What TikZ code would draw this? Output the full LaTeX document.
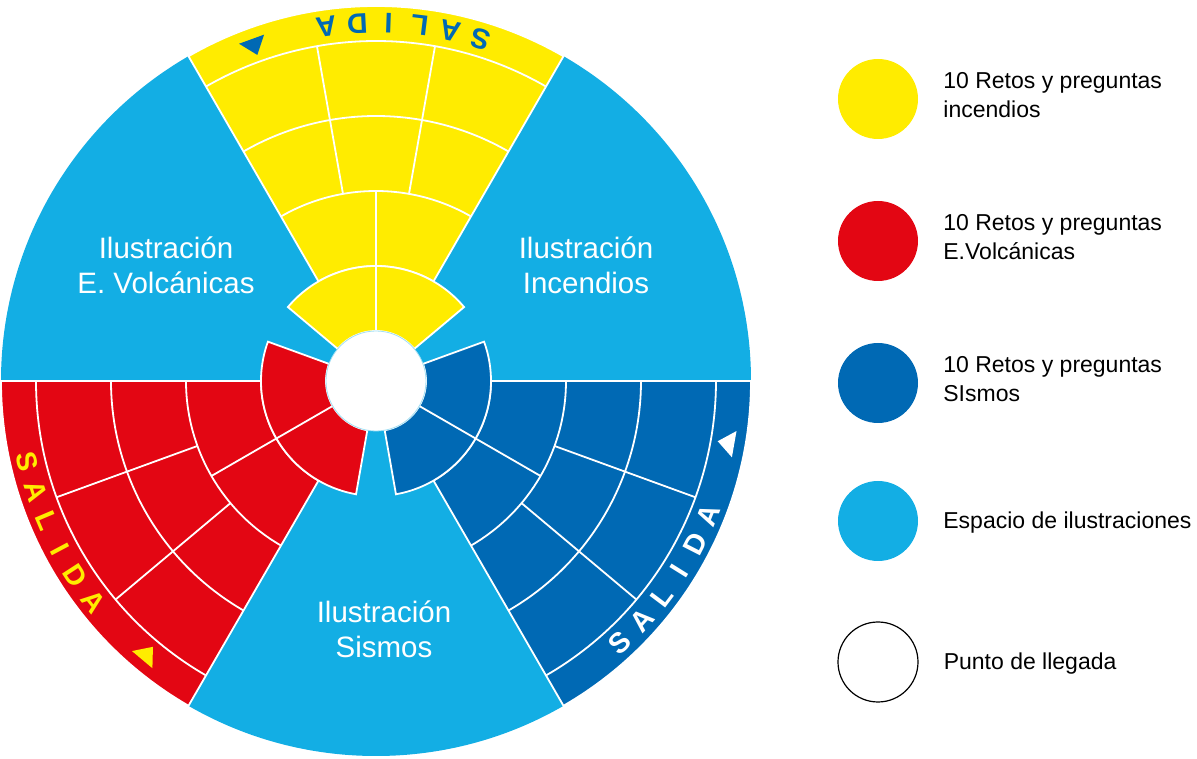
\documentclass[tikz,border=0pt]{standalone}
\usepackage{fontspec}
\setmainfont{Liberation Sans}
\usetikzlibrary{positioning}

\definecolor{amarillo}{HTML}{FFEC00}
\definecolor{rojo}{HTML}{E30613}
\definecolor{azul}{HTML}{0069B4}
\definecolor{celeste}{HTML}{13AEE4}

\tikzset{every picture/.style={x=1pt,y=1pt},
  linea/.style={draw=white,line width=1.8pt},
  ilus/.style={text=white,align=center,font=\fontsize{29.5}{35}\selectfont},
  letra/.style={font=\fontsize{28.5}{30}\selectfont\bfseries,inner sep=0pt},
  legcirc/.style={circle,minimum size=80pt,inner sep=0pt},
  legtext/.style={align=left,inner sep=0pt,font=\fontsize{23}{29.5}\selectfont}}

% ten cells: #1 fill, #2 colour of SALIDA, #3 middle angle, #4 name
\newcommand{\retosector}[4]{%
  \filldraw[linea,fill=#1] ({#3-30}:115) -- ({#3-30}:375) arc[start angle=#3-30,end angle=#3+30,radius=375] -- ({#3+30}:115) arc[start angle=#3+30,end angle=#3-30,radius=115] -- cycle;
  \filldraw[linea,fill=#1] ({#3-50}:50) -- ({#3-50}:115) arc[start angle=#3-50,end angle=#3+50,radius=115] -- ({#3+50}:50) arc[start angle=#3+50,end angle=#3-50,radius=50] -- cycle;
  \draw[linea] ({#3-30}:190) arc[start angle=#3-30,end angle=#3+30,radius=190];
  \draw[linea] ({#3-30}:265) arc[start angle=#3-30,end angle=#3+30,radius=265];
  \draw[linea] ({#3-30}:340) arc[start angle=#3-30,end angle=#3+30,radius=340];
  \draw[linea] (#3:50) -- (#3:190);
  \draw[linea] ({#3-10}:190) -- ({#3-10}:340);
  \draw[linea] ({#3+10}:190) -- ({#3+10}:340);
  \fill[#2] ({#3+17.9}:364) -- ({#3+22.1}:364) -- ({#3+20}:347) -- cycle;
  \node (#4S) at ({#3-17}:358) [letra,text=#2,rotate=#3-287] {S};
  \node (#4A) at ({#3-12}:358) [letra,text=#2,rotate=#3-282] {A};
  \node (#4L) at ({#3-7}:358) [letra,text=#2,rotate=#3-277] {L};
  \node (#4I) at ({#3-2}:358) [letra,text=#2,rotate=#3-272] {I};
  \node (#4D) at ({#3+3}:358) [letra,text=#2,rotate=#3-267] {D};
  \node (#4AA) at ({#3+8}:358) [letra,text=#2,rotate=#3-262] {A};
}

\begin{document}
\begin{tikzpicture}
\useasboundingbox (-376,-378) rectangle (821,381);

\fill[celeste] (0,0) circle[radius=375];
\retosector{amarillo}{azul}{90}{inc}
\retosector{rojo}{amarillo}{210}{vol}
\retosector{azul}{white}{330}{sis}
\node (llegada) at (0,0) [circle,fill=white,draw=celeste!40,line width=0.8pt,minimum size=100pt,inner sep=0pt] {};

\node (ilvolcan) at (-210,115.5) [ilus] {Ilustración\\E. Volcánicas};
\node (ilincend) at (210,115.5) [ilus] {Ilustración\\Incendios};
\node (ilsismos) at (8,-248) [ilus] {Ilustración\\Sismos};

% legend
\node (legamarillo) at (502,282) [legcirc,fill=amarillo] {};
\node (legrojo) at (502,140) [legcirc,fill=rojo] {};
\node (legazul) at (502,-2) [legcirc,fill=azul] {};
\node (legceleste) at (502,-140) [legcirc,fill=celeste] {};
\node (legblanco) at (502,-281) [legcirc,draw=black,line width=1.2pt] {};

\node (txtamarillo) [legtext,right=25pt of legamarillo,yshift=4pt] {10 Retos y preguntas\\incendios};
\node (txtrojo) [legtext,right=25pt of legrojo,yshift=4pt] {10 Retos y preguntas\\E.Volcánicas};
\node (txtazul) [legtext,right=25pt of legazul,yshift=4pt] {10 Retos y preguntas\\SIsmos};
\node (txtceleste) [legtext,right=25pt of legceleste,yshift=-2pt] {Espacio de ilustraciones};
\node (txtblanco) [legtext,right=25pt of legblanco,yshift=-2pt] {Punto de llegada};
\end{tikzpicture}
\end{document}
